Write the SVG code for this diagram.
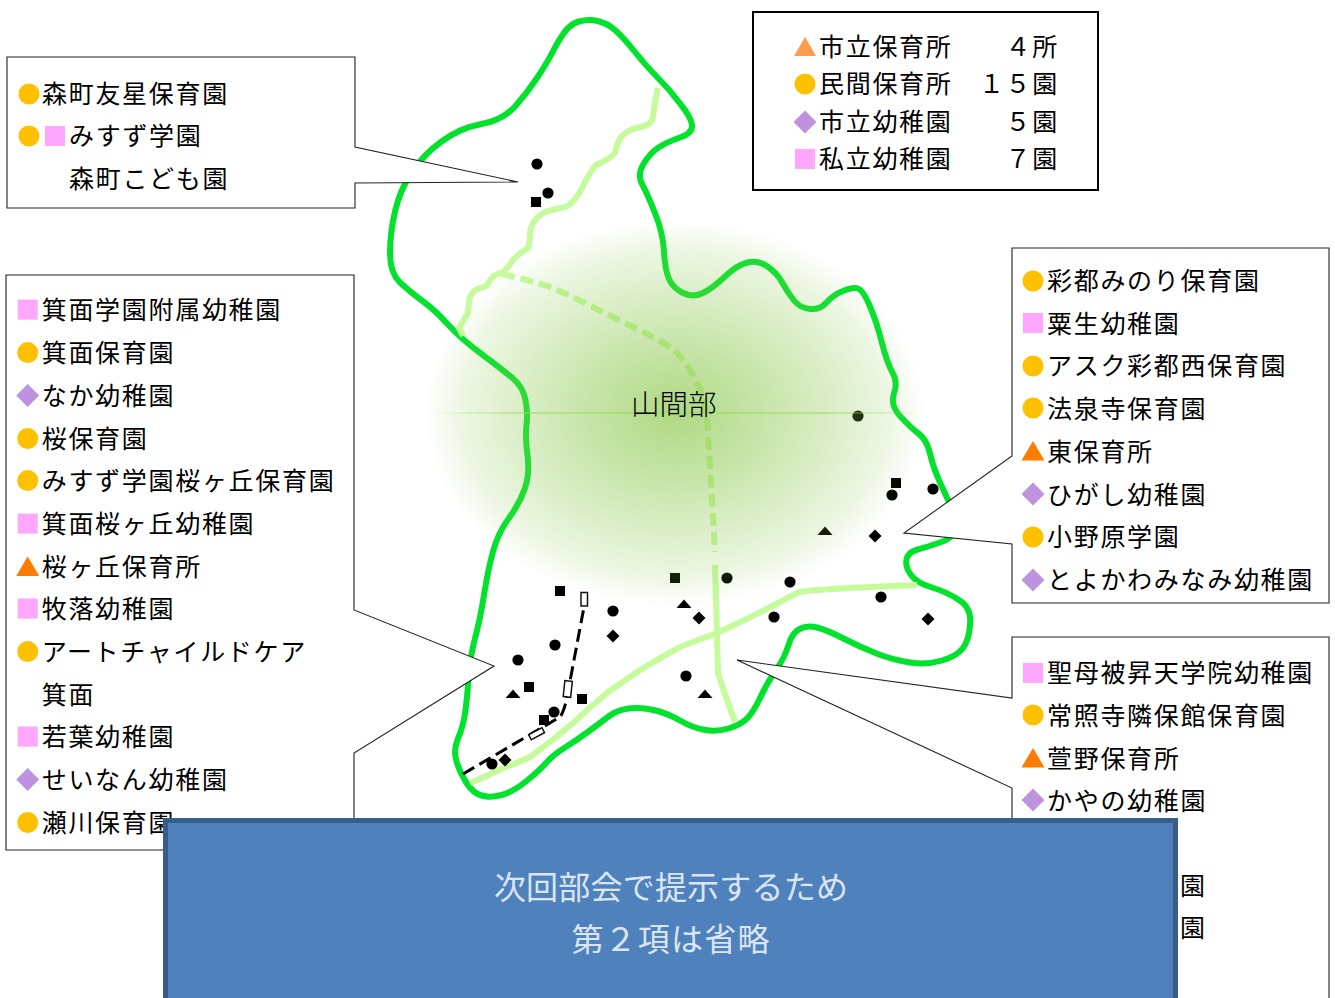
<svg xmlns="http://www.w3.org/2000/svg" xmlns:xlink="http://www.w3.org/1999/xlink" width="1335" height="998" viewBox="0 0 1335 998">
<style>
text{font-family:"Noto Sans CJK JP","Noto Sans",sans-serif}
.t{font-size:25px;letter-spacing:1.7px;fill:#000}
.box{fill:#fff;stroke:#222;stroke-width:1.1}
.road{fill:none;stroke:#c6fb9c;stroke-width:6;stroke-linejoin:round}
.bd{fill:none;stroke:#00e22c;stroke-width:6;stroke-linejoin:round}
.k{fill:#000}
.st{fill:#fff;stroke:#111;stroke-width:1.5}
.b{font-size:32px;fill:#dce6f2}
</style>
<defs>
<radialGradient id="glow" cx="675" cy="413" r="1" gradientUnits="userSpaceOnUse" gradientTransform="translate(675 413) scale(250 192) translate(-675 -413)">
<stop offset="0" stop-color="#8cc94e" stop-opacity=".7"/>
<stop offset=".3" stop-color="#8cc94e" stop-opacity=".52"/>
<stop offset=".6" stop-color="#8cc94e" stop-opacity=".33"/>
<stop offset=".85" stop-color="#8cc94e" stop-opacity=".16"/>
<stop offset="1" stop-color="#8cc94e" stop-opacity="0"/>
</radialGradient>
<linearGradient id="hl" x1="430" x2="925" y1="0" y2="0" gradientUnits="userSpaceOnUse">
<stop offset="0" stop-color="#94dc58" stop-opacity="0"/>
<stop offset=".2" stop-color="#94dc58"/>
<stop offset=".8" stop-color="#94dc58"/>
<stop offset="1" stop-color="#94dc58" stop-opacity="0"/>
</linearGradient>
<circle id="c" r="10.5" fill="#ffc000"/>
<rect id="s" x="-10" y="-10" width="20" height="20" fill="#ffa6ff"/>
<path id="d" d="M0-11.5L11.5 0L0 11.5L-11.5 0Z" fill="#bd92de"/>
<path id="a" d="M-11.5 9.500L0-10L11.500 9.500Z" fill="#ff7c00"/>
<circle id="kc" r="5.600" class="k"/>
<rect id="ks" x="-5" y="-5" width="10" height="10" class="k"/>
<path id="kd" d="M0-6.500L6.500 0L0 6.500L-6.500 0Z" class="k"/>
<path id="ka" d="M-7.500 4L0-4.500L7.500 4Z" class="k"/>
</defs>
<rect width="1335" height="998" fill="#fff"/>
<g id="map">
<path class="bd" d="M597.5 21Q588 19 579 21.500Q570 24 563.500 33.500Q557 43 552 53Q547 63 537 78Q527 93 515 106.500Q503 120 481.500 124Q460 128 441.500 141.500Q423 155 411.500 172.500Q400 190 395 211.500Q390 233 390 253Q390 273 400 282.500Q410 292 422.500 301Q435 310 447.500 324Q460 338 481.500 354Q503 370 513 378.500Q523 387 525.500 400Q528 413 526.500 425Q525 437 527.500 455Q530 473 525 488Q520 503 509 518Q498 533 493 551.500Q488 570 484 595Q480 620 475 638.500Q470 657 468.500 678.500Q467 700 465 713.500Q463 727 458 738.500Q453 750 456.500 761.500Q460 773 466.500 783Q473 793 481.500 795.500Q490 798 501.500 795Q513 792 526.500 781Q540 770 546.500 762.500Q553 755 565 747.500Q577 740 588.500 731.500Q600 723 608.500 716.500Q617 710 628.500 708.500Q640 707 653.500 710Q667 713 680 720.500Q693 728 705 730Q717 732 728.500 728.500Q740 725 746.500 719Q753 713 760 698Q767 683 776 670Q785 657 788.500 645Q792 633 799.500 629Q807 625 817 627.500Q827 630 843.500 638.500Q860 647 876.500 653.500Q893 660 910 662.500Q927 665 942 660.500Q957 656 963 648Q969 640 970 625Q972 608 959 600Q947 592 932 587.500Q917 583 911 575Q905 567 906.500 559.500Q908 552 917.500 549.500Q927 547 940 542.500Q953 538 956 530Q960 525 953 510Q947 498 940 482.500Q933 467 930 453.500Q927 440 918.500 433.500Q910 427 900 416Q890 405 894 393.500Q898 382 892.500 372.500Q887 363 882 343Q877 323 870 306.500Q863 290 858 288.500Q853 287 843 291Q833 295 826.500 302.500Q820 310 810 309Q800 308 794 300.500Q788 293 782.500 283Q777 273 767.500 266.500Q758 260 747.500 262.500Q737 265 725 276.500Q713 288 703 293Q693 298 683 293Q673 288 669 279Q665 270 664 251.500Q663 233 655 213Q647 193 642 184Q637 175 643.500 164Q650 153 658.500 147.500Q667 142 680 137.500Q693 133 692 125Q691 117 680 103.500Q670 90 658.500 78.500Q647 67 635 52Q623 37 615 30Q607 23 597.500 21Z"/>
</g>
<g id="connectors">
<path class="road" d="M658 88Q655 100 653 117Q652 125 640 127Q627 130 621 137Q617 143 615 153Q608 160 596 165Q590 172 583 186Q575 203 565 207Q550 210 543 213Q532 220 530 232Q530 243 528 248Q518 254 513 260Q508 268 503 272Q493 275 490 280Q487 288 480 288Q472 290 469 300Q469 310 467 315Q462 323 459 328L463 336"/>
<path class="road" stroke-dasharray="13 6" d="M502 274Q525 279 547 286Q570 295 593 307Q613 317 633 327Q652 336 670 347Q685 358 697 383Q705 398 707 417L710 467L713 517L715 552"/>
<path class="road" d="M715 565L717 633L718 673Q725 695 735 722"/>
<path class="road" d="M470 783Q488 776 503 768Q518 763 530 757Q552 741 573 723Q590 707 607 693Q624 681 640 670Q660 658 680 647Q698 640 717 633Q750 618 780 602Q790 596 800 592Q815 589 917 585"/>
<path fill="none" stroke="#000" stroke-width="3" stroke-dasharray="13 6" d="M463 774L560 717Q564 712 567 697L584 607"/>
<rect class="st" x="581" y="592.500" width="6.500" height="13.500"/>
<rect class="st" x="564" y="681" width="7.500" height="16" transform="rotate(6 568 689)"/>
<rect class="st" x="529" y="731" width="15" height="5.500" transform="rotate(-28 536.500 733.500)"/>
</g>
<g id="markers">
<use href="#kc" x="537" y="164"/><use href="#kc" x="548" y="193"/><use href="#ks" x="536" y="202"/>
<use href="#ks" x="560" y="591"/><use href="#ks" x="675" y="578"/><use href="#ks" x="529" y="687"/><use href="#ks" x="582" y="699"/><use href="#ks" x="544" y="720"/><use href="#ks" x="896" y="483"/>
<use href="#kc" x="727" y="578"/><use href="#kc" x="613" y="611"/><use href="#kc" x="555" y="645"/><use href="#kc" x="518" y="660"/><use href="#kc" x="554" y="712"/><use href="#kc" x="492" y="764"/><use href="#kc" x="686" y="676"/><use href="#kc" x="774" y="617"/><use href="#kc" x="858" y="416"/><use href="#kc" x="892" y="495"/><use href="#kc" x="933" y="489"/><use href="#kc" x="790" y="582"/><use href="#kc" x="881" y="597"/>
<use href="#kd" x="699" y="618"/><use href="#kd" x="613" y="636"/><use href="#kd" x="505" y="760"/><use href="#kd" x="875" y="536"/><use href="#kd" x="928" y="619"/>
<use href="#ka" x="684" y="604"/><use href="#ka" x="513" y="694"/><use href="#ka" x="705" y="694"/><use href="#ka" x="825" y="531"/>
</g>
<g id="mountain">
<ellipse cx="675" cy="413" rx="250" ry="192" fill="url(#glow)"/>
<rect x="430" y="412.500" width="495" height="1" fill="url(#hl)"/>
<text x="631" y="415" font-size="28.500" font-weight="300" fill="#000">山間部</text>
</g>
<g id="callout-morimachi">
<path class="box" d="M7 57H355V147L518 182L355 183V208H7Z"/>
<use href="#c" x="29" y="94"/><text class="t" x="42" y="103">森町友星保育園</text>
<use href="#c" x="29" y="136"/><use href="#s" x="55" y="136"/><text class="t" x="69" y="145">みすず学園</text>
<text class="t" x="69" y="188">森町こども園</text>
</g>
<g id="callout-minoh">
<path class="box" d="M6 275H354V610L494 666L354 753V850H6Z"/>
<g transform="translate(.7 .6)">
<use href="#s" x="27" y="309"/><text class="t" x="41" y="318">箕面学園附属幼稚園</text>
<use href="#c" x="27" y="352"/><text class="t" x="41" y="361">箕面保育園</text>
<use href="#d" x="27" y="395"/><text class="t" x="41" y="404">なか幼稚園</text>
<use href="#c" x="27" y="438"/><text class="t" x="41" y="447">桜保育園</text>
<use href="#c" x="27" y="480"/><text class="t" x="41" y="489">みすず学園桜ヶ丘保育園</text>
<use href="#s" x="27" y="523"/><text class="t" x="41" y="532">箕面桜ヶ丘幼稚園</text>
<use href="#a" x="27" y="566"/><text class="t" x="41" y="575">桜ヶ丘保育所</text>
<use href="#s" x="27" y="608"/><text class="t" x="41" y="617">牧落幼稚園</text>
<use href="#c" x="27" y="651"/><text class="t" x="41" y="660">アートチャイルドケア</text>
<text class="t" x="41" y="703">箕面</text>
<use href="#s" x="27" y="736"/><text class="t" x="41" y="745">若葉幼稚園</text>
<use href="#d" x="27" y="779"/><text class="t" x="41" y="788">せいなん幼稚園</text>
<use href="#c" x="27" y="822"/><text class="t" x="41" y="831">瀬川保育園</text>
</g>
</g>
<g id="legend">
<rect x="753" y="12" width="345" height="178" fill="#fff" stroke="#000" stroke-width="2"/>
<path d="M805 37L816 56H794Z" fill="#ff9b4d"/><text class="t" x="819" y="56">市立保育所</text><text class="t" x="1059" y="56" text-anchor="end">４所</text>
<circle cx="805" cy="84" r="10.500" fill="#ffc000"/><text class="t" x="819" y="93">民間保育所</text><text class="t" x="1059" y="93" text-anchor="end">１５園</text>
<use href="#d" x="805" y="122"/><text class="t" x="819" y="131">市立幼稚園</text><text class="t" x="1059" y="131" text-anchor="end">５園</text>
<use href="#s" x="805" y="159"/><text class="t" x="819" y="168">私立幼稚園</text><text class="t" x="1059" y="168" text-anchor="end">７園</text>
</g>
<g id="callout-toyokawa">
<path class="box" d="M1012 248H1329V603H1012V544L904 533L1012 456Z"/>
<use href="#c" x="1033" y="281"/><text class="t" x="1047" y="290">彩都みのり保育園</text>
<use href="#s" x="1033" y="323"/><text class="t" x="1047" y="332.500">粟生幼稚園</text>
<use href="#c" x="1033" y="366"/><text class="t" x="1047" y="375">アスク彩都西保育園</text>
<use href="#c" x="1033" y="408"/><text class="t" x="1047" y="417.500">法泉寺保育園</text>
<use href="#a" x="1033" y="451"/><text class="t" x="1047" y="460.500">東保育所</text>
<use href="#d" x="1033" y="494"/><text class="t" x="1047" y="503.500">ひがし幼稚園</text>
<use href="#c" x="1033" y="537"/><text class="t" x="1047" y="546">小野原学園</text>
<use href="#d" x="1033" y="580"/><text class="t" x="1047" y="589">とよかわみなみ幼稚園</text>
</g>
<g id="callout-kayano">
<path class="box" d="M1012 637H1329V1010H1012V788L737 660L1012 698Z"/>
<use href="#s" x="1033" y="673"/><text class="t" x="1047" y="682">聖母被昇天学院幼稚園</text>
<use href="#c" x="1033" y="715"/><text class="t" x="1047" y="724.500">常照寺隣保館保育園</text>
<use href="#a" x="1033" y="758"/><text class="t" x="1047" y="767.500">萱野保育所</text>
<use href="#d" x="1033" y="800"/><text class="t" x="1047" y="809.500">かやの幼稚園</text>
<text class="t" x="1180" y="895">園</text>
<text class="t" x="1180" y="937">園</text>
</g>
<g id="notice">
<rect x="165.500" y="820.500" width="1010" height="190" fill="#4f81bd" stroke="#385d8a" stroke-width="5"/>
<text class="b" x="671" y="899" text-anchor="middle" letter-spacing=".2">次回部会で提示するため</text>
<text class="b" x="671" y="951" text-anchor="middle" letter-spacing="1.200">第２項は省略</text>
</g>
</svg>
